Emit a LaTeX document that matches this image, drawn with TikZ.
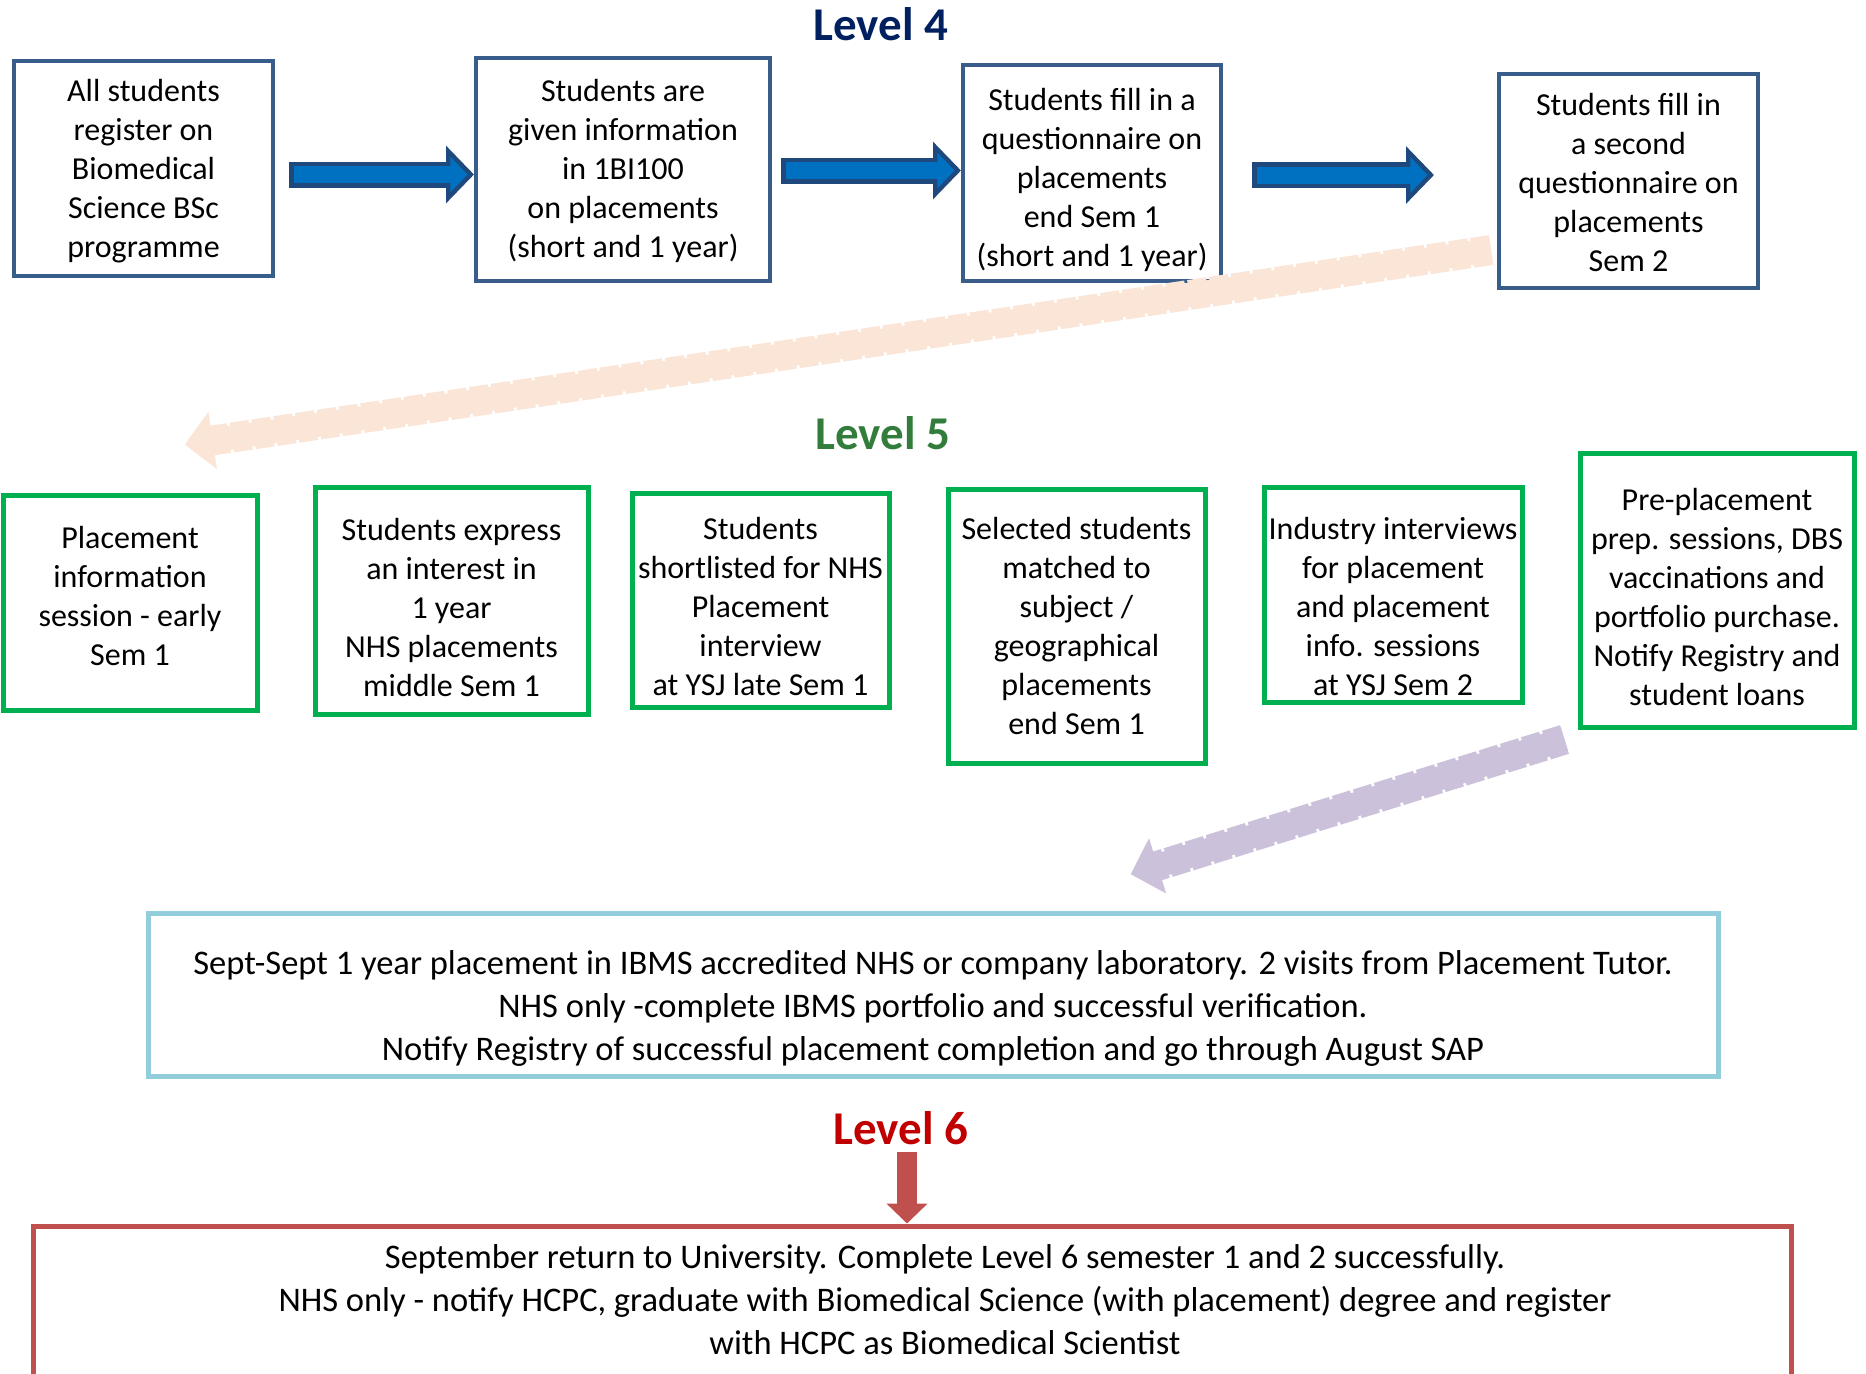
\documentclass[tikz,border=0pt]{standalone}
\usepackage{fontspec}
\setmainfont{Carlito}
\usepackage{xcolor}
\usepackage{tikz}
\usetikzlibrary{calc}
\usetikzlibrary{arrows.meta}
\usetikzlibrary{positioning}
\definecolor{navy}{RGB}{0,32,96}
\definecolor{darkgreen}{RGB}{50,125,60}
\definecolor{darkred}{RGB}{192,0,0}
\definecolor{boxblue}{RGB}{56,93,138}
\definecolor{boxgreen}{RGB}{0,176,80}
\definecolor{boxcyan}{RGB}{146,205,220}
\definecolor{boxred}{RGB}{192,80,77}
\definecolor{arrowblue}{RGB}{0,112,192}
\definecolor{arrowedge}{RGB}{31,73,125}
\definecolor{peach}{RGB}{251,229,214}
\definecolor{lilac}{RGB}{204,193,218}
% centred lines, lowered by #1 inside the box
\newcommand{\drop}[2]{\raisebox{-#1}[\height][\depth]{\begin{tabular}{@{}c@{}}#2\end{tabular}}}
\tikzstyle{level} = [font=\bfseries\fontsize{23.5}{28}\selectfont]
\tikzstyle{lfour} = [rectangle, draw=boxblue, fill=white, line width=2pt, inner sep=0pt, font=\fontsize{16}{19.5}\selectfont]
\tikzstyle{lfive} = [rectangle, draw=boxgreen, fill=white, line width=2.5pt, inner sep=0pt, font=\fontsize{16}{19.5}\selectfont]
\tikzstyle{wide} = [rectangle, fill=white, line width=2.5pt, inner sep=0pt, font=\fontsize{17.25}{21.5}\selectfont]
\tikzstyle{blk} = [draw=arrowedge, line width=13pt, -{Triangle[length=14pt, width=28pt]},
  postaction={draw=arrowblue, line width=8.5pt, shorten <=2.25pt, shorten >=3.2pt, -{Triangle[length=8.6pt, width=17.2pt]}}]
\tikzstyle{down} = [draw=boxred, line width=10pt, -{Triangle[length=10pt, width=20pt]}]
\tikzset{ghost/.style={preaction={draw=#1, line width=15pt, dash pattern=on 9.5pt off 1.5pt, -{Triangle[length=14pt, width=28pt]}},
  draw=#1, line width=12pt, shorten >=1.5pt, -{Triangle[length=12pt, width=24pt]}}}

\begin{document}
\begin{tikzpicture}[x=0.5pt, y=-0.5pt]
\useasboundingbox (0,0) rectangle (1866,1373);

% level 4
\node [level, text=navy] (lvlfour) at (881, 24) {Level 4};
\node [lfour, minimum width=129.5pt, minimum height=107.5pt] (A) at (143.5, 168.5) {\drop{1.5pt}{All students\\register on\\Biomedical\\Science BSc\\programme}};
\node [lfour, minimum width=147pt, minimum height=111.5pt] (B) at (623, 169.5) {\drop{1pt}{Students are\\given information\\in 1BI100\\on placements\\(short and 1 year)}};
\node [lfour, minimum width=129pt, minimum height=108pt] (C) at (1092, 173) {\drop{3.9pt}{Students fill in a\\questionnaire on\\placements\\end Sem 1\\(short and 1 year)}};
\node [lfour, minimum width=129.5pt, minimum height=107pt] (D) at (1628.5, 181) {\drop{2.4pt}{Students fill in\\a second\\questionnaire on\\placements\\Sem 2}};
\draw [blk] ([xshift=7pt, yshift=-3pt]A.east) -- ([yshift=-3pt]A.east -| B.west);
\draw [blk] ([xshift=4.5pt, yshift=-0.5pt]B.east) -- ([yshift=-0.5pt]B.east -| C.west);
\draw [blk] ([xshift=14.5pt, yshift=-1pt]C.east) -- ([xshift=-31.5pt, yshift=-1pt]C.east -| D.west);

% back to level 5
\coordinate (pk) at (182, 445);
\draw [ghost=peach] ($(D.west)+(-6, 69)$) -- (pk);

% level 5
\node [level, text=darkgreen] (lvlfive) at (883, 433) {Level 5};
\node [lfive, minimum width=127pt, minimum height=107.5pt] (E) at (130, 602.5) {\drop{-1.8pt}{Placement\\information\\session - early\\Sem 1}};
\node [lfive, minimum width=136.5pt, minimum height=113.5pt] (F) at (451.5, 600.5) {\drop{5pt}{Students express\\an interest in\\1 year\\NHS placements\\middle Sem 1}};
\node [lfive, minimum width=128.5pt, minimum height=107pt] (G) at (760.5, 600) {\drop{5pt}{Students\\shortlisted for NHS\\Placement\\interview\\at YSJ late Sem 1}};
\node [lfive, minimum width=128.5pt, minimum height=137pt] (H) at (1076.5, 626) {\drop{1.8pt}{Selected students\\matched to\\subject /\\geographical\\placements\\end Sem 1}};
\node [lfive, minimum width=129pt, minimum height=107.5pt] (I) at (1393, 594.5) {\drop{7.5pt}{Industry interviews\\for placement\\and placement\\info. sessions\\at YSJ Sem 2}};
\node [lfive, minimum width=137pt, minimum height=137pt] (J) at (1717, 590) {\drop{5pt}{Pre-placement\\prep. sessions, DBS\\vaccinations and\\portfolio purchase.\\Notify Registry and\\student loans}};

\coordinate (lk) at (1128, 875);
\draw [ghost=lilac] ($(J.south west)+(-13, 10)$) -- (lk);

% placement year
\node [wide, draw=boxcyan, minimum width=785pt, minimum height=81.5pt] (K) at (933, 994.5) {\drop{7pt}{Sept-Sept 1 year placement in IBMS accredited NHS or company laboratory. 2 visits from Placement Tutor.\\NHS only -complete IBMS portfolio and successful verification.\\Notify Registry of successful placement completion and go through August SAP}\hspace{17pt}};

% level 6
\node [level, text=darkred] (lvlsix) at (901, 1128) {Level 6};
\node [wide, draw=boxred, minimum width=879pt, minimum height=77pt] (L) at (912, 1303) {\hspace{33pt}\drop{0pt}{September return to University. Complete Level 6 semester 1 and 2 successfully.\\NHS only - notify HCPC, graduate with Biomedical Science (with placement) degree and register\\with HCPC as Biomedical Scientist}};
\draw [down] ([xshift=3pt]lvlsix.south) -- ([xshift=3pt]lvlsix.south |- L.north);
\end{tikzpicture}
\end{document}
